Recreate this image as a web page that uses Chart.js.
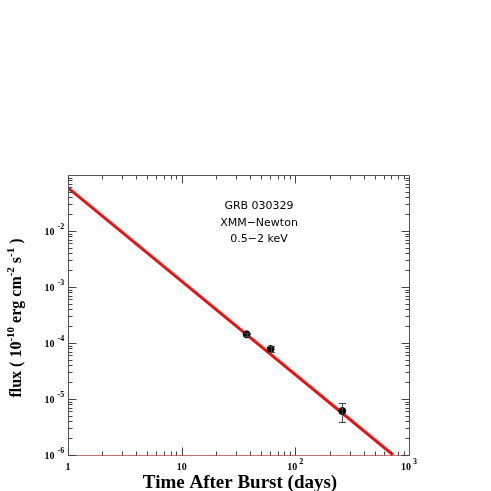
<!DOCTYPE html>
<html>
<head>
<meta charset="utf-8">
<script src="https://cdn.jsdelivr.net/npm/chart.js@4/dist/chart.umd.min.js"></script>
<style>
  html, body { margin: 0; padding: 0; background: #fff; }
  #wrap { width: 491px; height: 491px; }
</style>
</head>
<body>
<div id="wrap"><canvas id="ChartFlux" width="491" height="491"></canvas></div>
<script>
// Observed points (days, flux in 1e-10 erg cm^-2 s^-1)
const obsTime = [37.3, 60.6, 259];
const obsFlux = [1.43e-4, 7.8e-5, 6.1e-6];
const obsErrLow = [1.36e-4, 6.9e-5, 3.9e-6];
const obsErrHigh = [1.50e-4, 8.9e-5, 8.5e-6];

// Power-law fit endpoints
const fitTime = [1, 724];
const fitFlux = [0.059, 1e-6];

// Axis decades
const xDecades = [1, 10, 100, 1000];
const xDecadeLabels = [['1', ''], ['10', ''], ['10', '2'], ['10', '3']];
const yDecades = [1e-6, 1e-5, 1e-4, 1e-3, 1e-2, 1e-1];
const yDecadeLabels = [['10', '-6'], ['10', '-5'], ['10', '-4'], ['10', '-3'], ['10', '-2'], ['', '']];

const annotLines = ['GRB 030329', 'XMM\u2212Newton', '0.5\u22122 keV'];

// Draws frame, inward log ticks, labels, error bars and text
const framePlugin = {
    id: 'framePlugin',
    afterDatasetsDraw(chart) {
        const ctx = chart.ctx;
        const xs = chart.scales.x;
        const ys = chart.scales.y;

        // error bars
        ctx.save();
        ctx.strokeStyle = '#444';
        ctx.lineWidth = 1;
        for (let i = 0; i < obsTime.length; i++) {
            const px = Math.round(xs.getPixelForValue(obsTime[i])) + 0.5;
            const y1 = Math.round(ys.getPixelForValue(obsErrLow[i])) + 0.5;
            const y2 = Math.round(ys.getPixelForValue(obsErrHigh[i])) + 0.5;
            ctx.beginPath();
            ctx.moveTo(px, y1); ctx.lineTo(px, y2);
            ctx.moveTo(px - 3.5, y1); ctx.lineTo(px + 3.5, y1);
            ctx.moveTo(px - 3.5, y2); ctx.lineTo(px + 3.5, y2);
            ctx.stroke();
        }
        ctx.restore();
    },
    afterDraw(chart) {
        const ctx = chart.ctx;
        const area = chart.chartArea;
        const xs = chart.scales.x;
        const ys = chart.scales.y;
        const L = Math.round(area.left) + 0.5, R = Math.round(area.right) + 0.5;
        const T = Math.round(area.top) + 0.5, B = Math.round(area.bottom) + 0.5;

        ctx.save();
        ctx.strokeStyle = '#555';
        ctx.lineWidth = 1;
        ctx.beginPath();
        ctx.moveTo(L, B); ctx.lineTo(L, T); ctx.lineTo(R, T); ctx.lineTo(R, B);
        ctx.stroke();
        ctx.strokeStyle = '#c87070';
        ctx.beginPath();
        ctx.moveTo(L, B); ctx.lineTo(R, B);
        ctx.stroke();

        // x ticks
        ctx.strokeStyle = '#444';
        ctx.beginPath();
        for (let d = 0; d < xDecades.length - 1; d++) {
            for (let m = 1; m <= 9; m++) {
                const v = xDecades[d] * m;
                const px = Math.round(xs.getPixelForValue(v)) + 0.5;
                const len = (m === 1) ? 8 : 4;
                ctx.moveTo(px, B); ctx.lineTo(px, B - len);
                ctx.moveTo(px, T); ctx.lineTo(px, T + len);
            }
        }
        // y ticks
        for (let d = 0; d < yDecades.length - 1; d++) {
            for (let m = 1; m <= 9; m++) {
                const v = yDecades[d] * m;
                const py = Math.round(ys.getPixelForValue(v)) + 0.5;
                const len = (m === 1) ? 8 : 4;
                ctx.moveTo(L, py); ctx.lineTo(L + len, py);
                ctx.moveTo(R, py); ctx.lineTo(R - len, py);
            }
        }
        ctx.stroke();

        // tick labels
        ctx.fillStyle = '#000';
        const base = 'bold 10px "Liberation Serif", "DejaVu Serif", serif';
        const sup = 'bold 8px "Liberation Serif", "DejaVu Serif", serif';
        ctx.textBaseline = 'alphabetic';
        xDecades.forEach((v, i) => {
            const px = xs.getPixelForValue(v);
            const [b, e] = xDecadeLabels[i];
            ctx.font = base;
            const wb = ctx.measureText(b).width;
            ctx.font = sup;
            const we = e ? ctx.measureText(e).width + 2 : 0;
            const x0 = px - (wb + we) / 2;
            ctx.font = base;
            ctx.textAlign = 'left';
            ctx.fillText(b, x0, B + 14);
            if (e) {
                ctx.font = sup;
                ctx.fillText(e, x0 + wb + 2, B + 8);
            }
        });
        yDecades.forEach((v, i) => {
            const py = ys.getPixelForValue(v);
            const [b, e] = yDecadeLabels[i];
            if (!b) return;
            ctx.font = base;
            ctx.textAlign = 'left';
            ctx.fillText(b, L - 24, py + 4);
            ctx.font = sup;
            ctx.fillText(e, L - 11, py - 2);
        });

        // axis titles
        ctx.font = 'bold 19px "Liberation Serif", "DejaVu Serif", serif';
        ctx.textAlign = 'center';
        ctx.fillText('Time After Burst (days)', 240, 488);

        ctx.translate(21, 318);
        ctx.rotate(-Math.PI / 2);
        const parts = [
            ['flux ( 10', 16, 0], ['-10', 11, -7], [' erg cm', 16, 0],
            ['-2', 11, -7], [' s', 16, 0], ['-1', 11, -7], [' )', 16, 0]
        ];
        let total = 0;
        parts.forEach(p => {
            ctx.font = 'bold ' + p[1] + 'px "Liberation Serif", "DejaVu Serif", serif';
            total += ctx.measureText(p[0]).width;
        });
        let cx = -total / 2;
        ctx.textAlign = 'left';
        parts.forEach(p => {
            ctx.font = 'bold ' + p[1] + 'px "Liberation Serif", "DejaVu Serif", serif';
            ctx.fillText(p[0], cx, p[2]);
            cx += ctx.measureText(p[0]).width;
        });
        ctx.restore();

        // annotation
        ctx.save();
        ctx.fillStyle = '#000';
        ctx.font = '11px "DejaVu Sans", sans-serif';
        ctx.textAlign = 'center';
        annotLines.forEach((t, i) => {
            ctx.fillText(t, 259, 209 + i * 16.5);
        });
        ctx.restore();
    }
};

document.addEventListener('DOMContentLoaded', function() {
    const ctx = document.getElementById('ChartFlux');
    new Chart(ctx, {
        type: 'scatter',
        data: {
            datasets: [
                {
                    type: 'scatter',
                    data: obsTime.map((t, i) => ({ x: t, y: obsFlux[i] })),
                    backgroundColor: '#000',
                    borderColor: '#000',
                    pointRadius: 3.5,
                    order: 0
                },
                {
                    type: 'line',
                    data: fitTime.map((t, i) => ({ x: t, y: fitFlux[i] })),
                    borderColor: '#ee1111',
                    borderWidth: 3,
                    pointRadius: 0,
                    fill: false,
                    order: 1
                }
            ]
        },
        plugins: [framePlugin],
        options: {
            responsive: false,
            animation: false,
            devicePixelRatio: 1,
            layout: { padding: { left: 68, right: 82, top: 175, bottom: 36 } },
            plugins: {
                legend: { display: false },
                tooltip: { enabled: false },
                title: { display: false }
            },
            scales: {
                x: { type: 'logarithmic', min: 1, max: 1000, display: false },
                y: { type: 'logarithmic', min: 1e-6, max: 1e-1, display: false }
            }
        }
    });
});
</script>
</body>
</html>
